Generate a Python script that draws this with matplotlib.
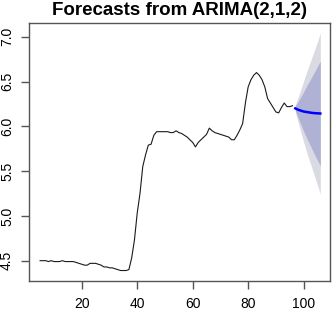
import matplotlib
matplotlib.use("Agg")
import matplotlib.pyplot as plt

plt.rcParams['font.family'] = ['Liberation Sans', 'DejaVu Sans']

# observed series (time index 5..96)
obs_t = list(range(5, 97))
obs_y = [4.50, 4.50, 4.50, 4.49, 4.50, 4.49, 4.49, 4.49, 4.50, 4.49, 4.49, 4.49, 4.49,
         4.48, 4.47, 4.46, 4.45, 4.45, 4.47, 4.47, 4.47, 4.46, 4.45, 4.43, 4.43, 4.42,
         4.42, 4.41, 4.40, 4.39, 4.39, 4.39, 4.40, 4.53, 4.73, 5.03, 5.25, 5.55, 5.68,
         5.79, 5.80, 5.90, 5.94, 5.94, 5.94, 5.94, 5.94, 5.93, 5.93, 5.95, 5.93, 5.92,
         5.90, 5.88, 5.85, 5.82, 5.77, 5.82, 5.85, 5.88, 5.91, 5.98, 5.95, 5.93, 5.92,
         5.91, 5.90, 5.89, 5.88, 5.85, 5.85, 5.90, 5.96, 6.03, 6.26, 6.44, 6.52, 6.57,
         6.60, 6.57, 6.52, 6.44, 6.31, 6.26, 6.21, 6.16, 6.15, 6.21, 6.26, 6.22, 6.22,
         6.23]

# forecasts (time index 97..106)
fc_t = list(range(97, 107))
fc_mean = [6.20, 6.185, 6.175, 6.165, 6.16, 6.155, 6.15, 6.147, 6.145, 6.143]
lo80 = [6.174, 6.095, 6.020, 5.945, 5.875, 5.810, 5.745, 5.682, 5.620, 5.558]
hi80 = [6.226, 6.275, 6.330, 6.385, 6.445, 6.500, 6.555, 6.612, 6.670, 6.728]
lo95 = [6.160, 6.045, 5.935, 5.825, 5.720, 5.625, 5.530, 5.437, 5.345, 5.243]
hi95 = [6.240, 6.325, 6.415, 6.505, 6.600, 6.685, 6.770, 6.857, 6.945, 7.043]

xticks = [20, 40, 60, 80, 100]
yticks = [4.5, 5.0, 5.5, 6.0, 6.5, 7.0]
ylabels = ["4.5", "5.0", "5.5", "6.0", "6.5", "7.0"]

fig = plt.figure(figsize=(3.33, 3.11), dpi=100)
ax = fig.add_axes([29.3/333, 30/311, (330-29.3)/333, (281-23.3)/311])

ax.fill_between(fc_t, lo95, hi95, color='#DADAE2', linewidth=0)
ax.fill_between(fc_t, lo80, hi80, color='#AFB2D4', linewidth=0)
ax.plot(obs_t, obs_y, color='#1a1a1a', linewidth=0.8)
ax.plot(fc_t, fc_mean, color='#0000FF', linewidth=1.8)

ax.set_xlim(1.1, 109.5)
ax.set_ylim(4.273, 7.15)
ax.set_xticks(xticks)
ax.set_xticklabels([str(v) for v in xticks])
ax.set_yticks(yticks)
ax.set_yticklabels(ylabels, rotation=90, va='center')

for s in ax.spines.values():
    s.set_color('#555555')
    s.set_linewidth(1.0)
ax.tick_params(axis='both', length=6, width=1.0, color='#555555', labelsize=10,
               labelcolor='black')
ax.tick_params(axis='x', pad=5.5)
ax.tick_params(axis='y', pad=5)

ax.set_title("Forecasts from ARIMA(2,1,2)", fontsize=13.5, fontweight='bold', pad=6)

fig.savefig("out.png", dpi=100)
